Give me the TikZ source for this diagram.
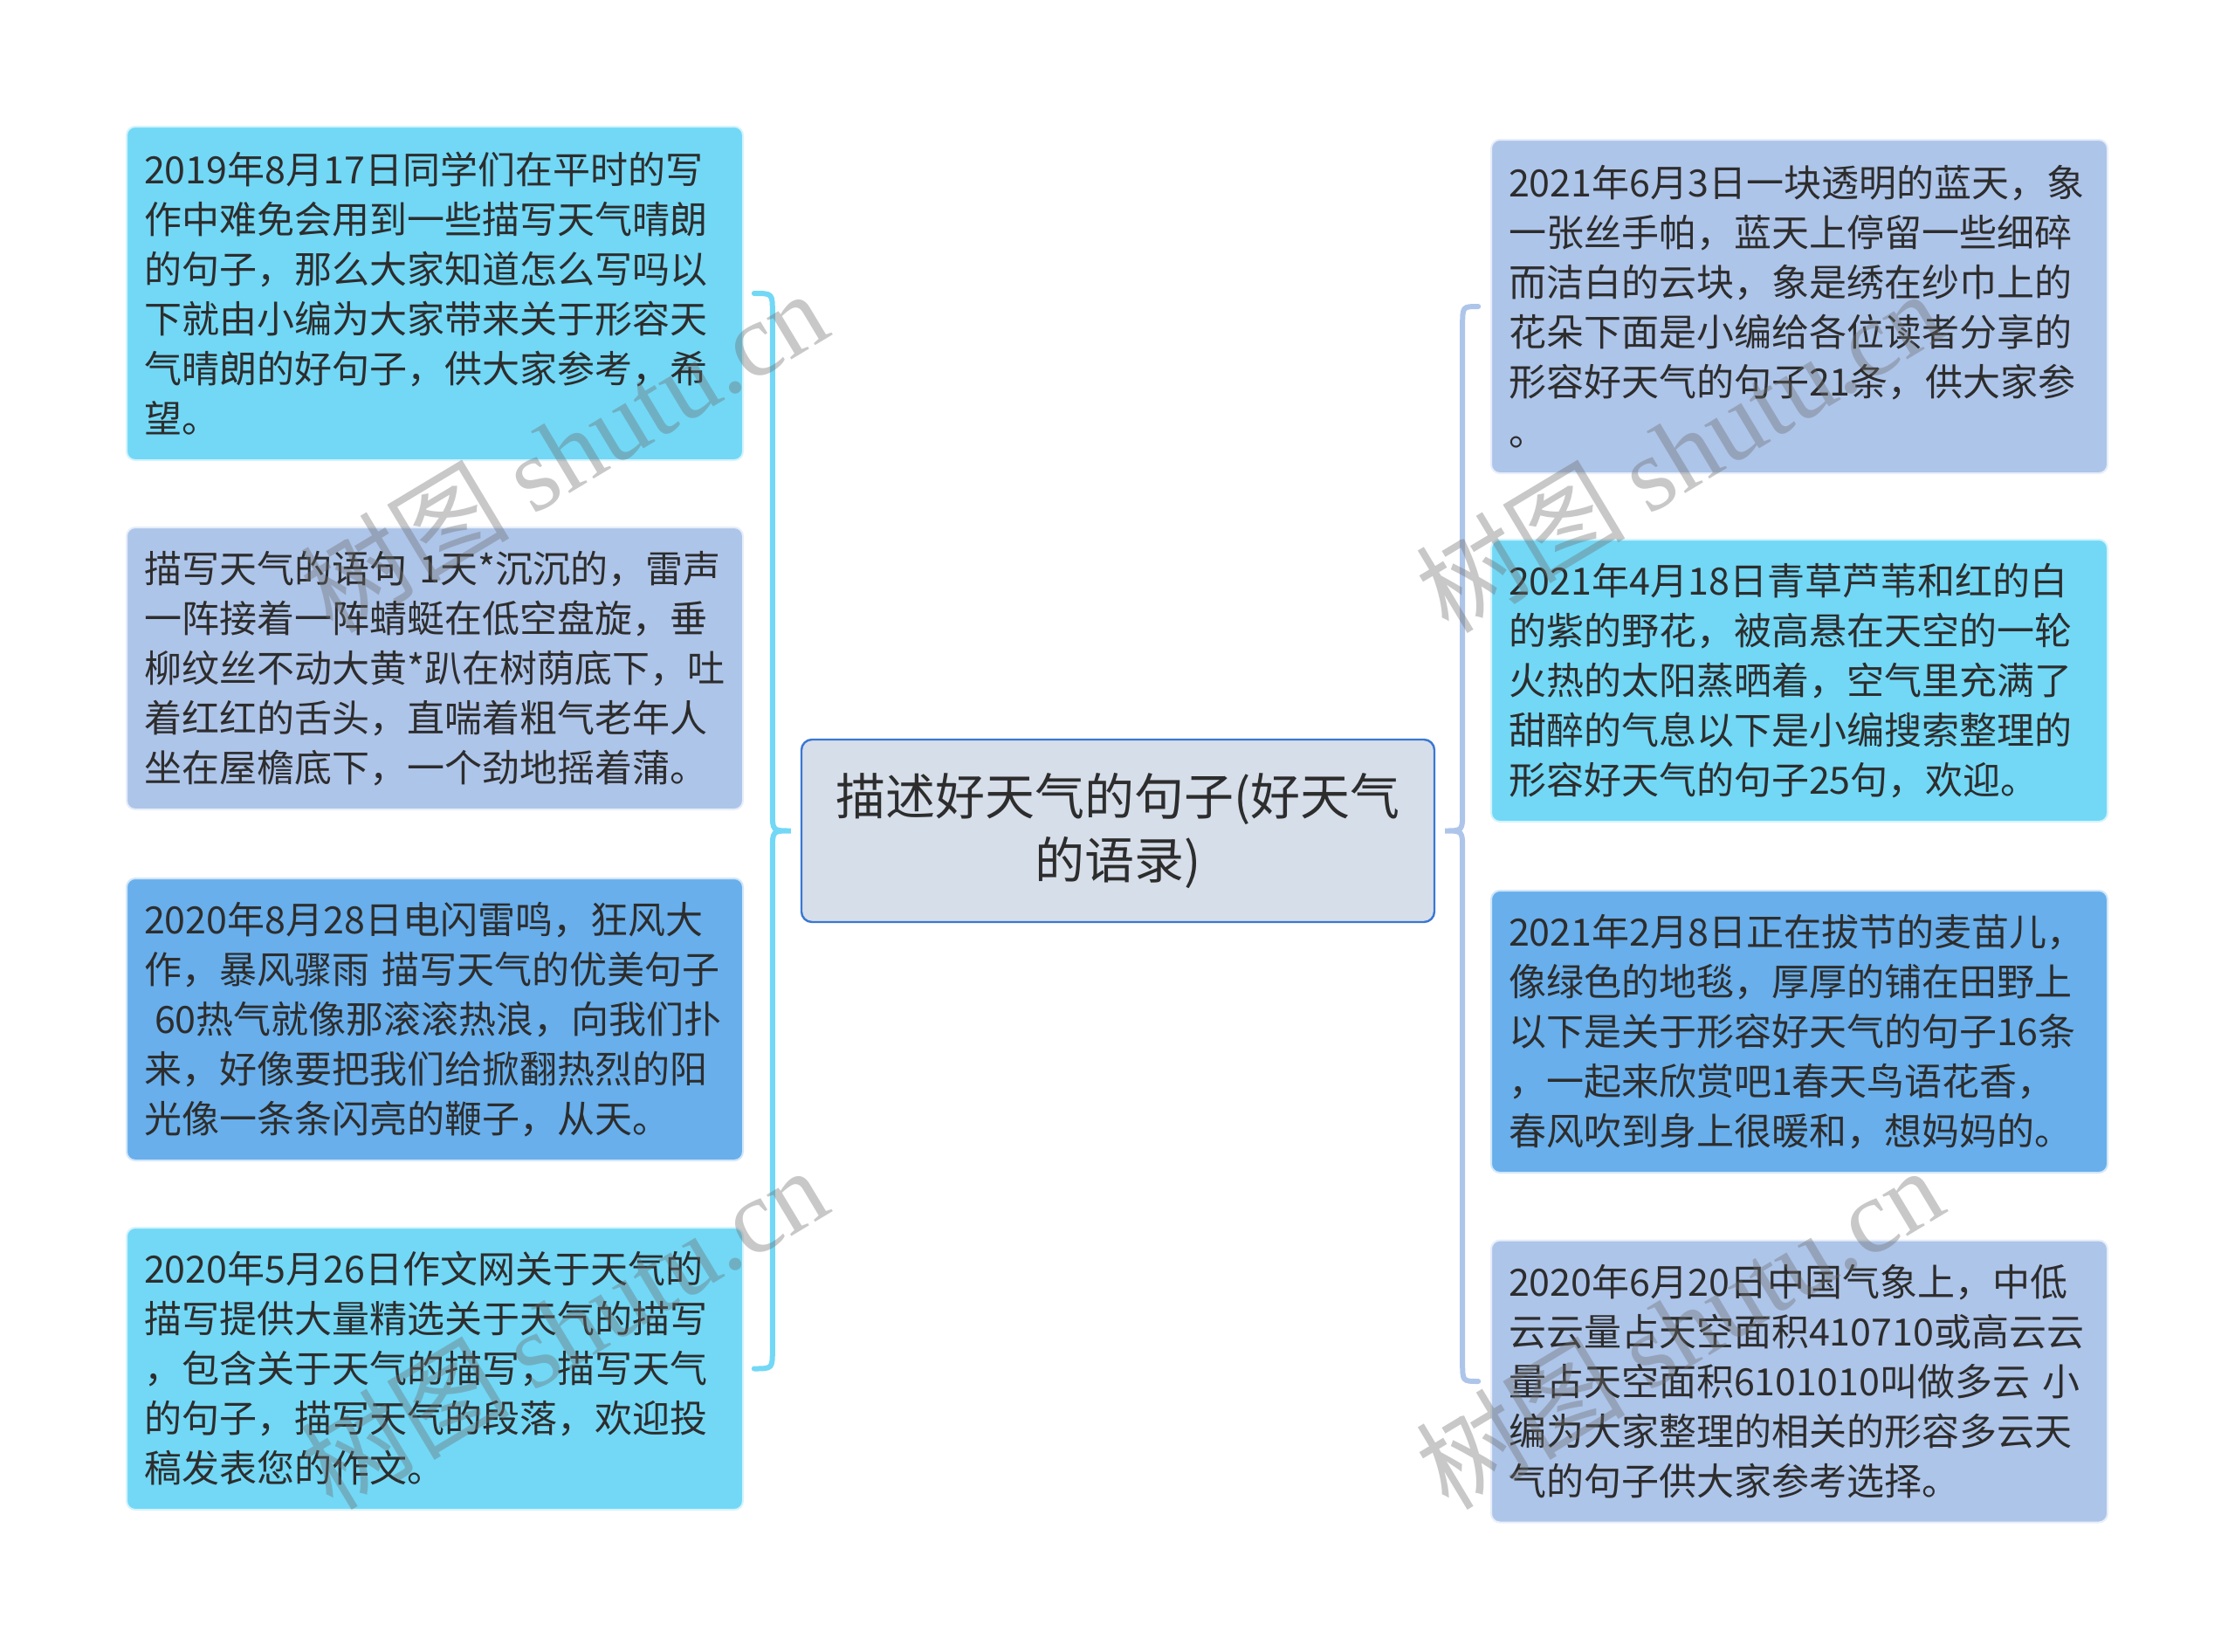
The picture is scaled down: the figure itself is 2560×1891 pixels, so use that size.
\documentclass[tikz,border=0pt]{standalone}
\usepackage{fontspec}
\setmainfont{Noto Sans CJK SC}
\newfontfamily\wmserif{Liberation Serif}
\newfontfamily\wmcjk{Noto Sans CJK SC}
\usetikzlibrary{calc}
\definecolor{cyanbox}{RGB}{114,216,246}
\definecolor{steelbox}{RGB}{174,197,234}
\definecolor{bluebox}{RGB}{104,175,236}
\definecolor{centerfill}{RGB}{214,222,234}
\definecolor{centerborder}{RGB}{58,120,210}
\definecolor{txt}{RGB}{45,45,45}
\definecolor{wmgray}{RGB}{110,110,110}
\begin{document}
\begin{tikzpicture}[x=0.5pt,y=-0.5pt,
  leaf/.style={rectangle, rounded corners=5pt, text width=333pt, align=left,
    inner xsep=10pt, inner ysep=0pt, font=\fontsize{21.5pt}{28.5pt}\selectfont,
    text=txt, line width=1pt},
  leafsix/.style={leaf, minimum height=191pt},
  leaffive/.style={leaf, minimum height=161.5pt},
  cyanleaf/.style={fill=cyanbox, draw=cyanbox!30!white},
  steelleaf/.style={fill=steelbox, draw=steelbox!30!white},
  blueleaf/.style={fill=bluebox, draw=bluebox!30!white},
  rootnode/.style={rectangle, rounded corners=6pt, fill=centerfill, draw=centerborder,
    line width=1.2pt, minimum width=362.5pt, minimum height=104.5pt, align=center,
    font=\fontsize{28.5pt}{36.75pt}\selectfont, text=txt},
  lbrace/.style={draw=cyanbox, line width=3pt, line cap=round},
  rbrace/.style={draw=steelbox, line width=3pt, line cap=round},
  wmark/.style={text=wmgray, opacity=0.38, rotate=31, inner sep=0pt}
]
\useasboundingbox (0,0) rectangle (2560,1891);

% root
\node[rootnode] (C) at (1280.5,951.5) {描述好天气的句子(好天气\\的语录)};

% left leaves
\node[leafsix, cyanleaf] (L1) at (498,336) {2019年8月17日同学们在平时的写\\作中难免会用到一些描写天气晴朗\\的句子，那么大家知道怎么写吗以\\下就由小编为大家带来关于形容天\\气晴朗的好句子，供大家参考，希\\望。};
\node[leaffive, steelleaf] (L2) at (498,765.5) {描写天气的语句 1天*沉沉的，雷声\\一阵接着一阵蜻蜓在低空盘旋，垂\\柳纹丝不动大黄*趴在树荫底下，吐\\着红红的舌头，直喘着粗气老年人\\坐在屋檐底下，一个劲地摇着蒲。};
\node[leaffive, blueleaf] (L3) at (498,1167.5) {2020年8月28日电闪雷鸣，狂风大\\作，暴风骤雨 描写天气的优美句子\\\hspace*{6pt}60热气就像那滚滚热浪，向我们扑\\来，好像要把我们给掀翻热烈的阳\\光像一条条闪亮的鞭子，从天。};
\node[leaffive, cyanleaf] (L4) at (498,1567.5) {2020年5月26日作文网关于天气的\\描写提供大量精选关于天气的描写\\，包含关于天气的描写，描写天气\\的句子，描写天气的段落，欢迎投\\稿发表您的作文。};

% right leaves
\node[leafsix, steelleaf] (R1) at (2061,351) {2021年6月3日一块透明的蓝天，象\\一张丝手帕，蓝天上停留一些细碎\\而洁白的云块，象是绣在纱巾上的\\花朵下面是小编给各位读者分享的\\形容好天气的句子21条，供大家参\\。};
\node[leaffive, cyanleaf] (R2) at (2061,779.5) {2021年4月18日青草芦苇和红的白\\的紫的野花，被高悬在天空的一轮\\火热的太阳蒸晒着，空气里充满了\\甜醉的气息以下是小编搜索整理的\\形容好天气的句子25句，欢迎。};
\node[leaffive, blueleaf] (R3) at (2061,1181.5) {2021年2月8日正在拔节的麦苗儿，\\像绿色的地毯，厚厚的铺在田野上\\以下是关于形容好天气的句子16条\\，一起来欣赏吧1春天鸟语花香，\\春风吹到身上很暖和，想妈妈的。};
\node[leaffive, steelleaf] (R4) at (2061,1582) {2020年6月20日中国气象上，中低\\云云量占天空面积410710或高云云\\量占天空面积6101010叫做多云 小\\编为大家整理的相关的形容多云天\\气的句子供大家参考选择。};

% braces
\coordinate (lv) at ($(C.west)+(-32,0)$);
\coordinate (rv) at ($(C.east)+(31,0)$);
\draw[lbrace] ($(lv |- L1.east)+(-21,0)$) .. controls (lv |- L1.east) .. ($(lv |- L1.east)+(0,22)$)
  -- ($(lv)+(0,-22)$) .. controls (lv) .. ($(C.west)+(-11,0)$)
  .. controls (lv) .. ($(lv)+(0,22)$)
  -- ($(lv |- L4.east)+(0,-22)$) .. controls (lv |- L4.east) .. ($(lv |- L4.east)+(-21,0)$);
\draw[rbrace] ($(rv |- R1.west)+(18,0)$) .. controls (rv |- R1.west) .. ($(rv |- R1.west)+(0,22)$)
  -- ($(rv)+(0,-22)$) .. controls (rv) .. ($(C.east)+(11,0)$)
  .. controls (rv) .. ($(rv)+(0,22)$)
  -- ($(rv |- R4.west)+(0,-22)$) .. controls (rv |- R4.west) .. ($(rv |- R4.west)+(18,0)$);

% watermarks
\node[wmark] (W1) at (645,516) {\fontsize{60pt}{60pt}\wmcjk 树图\ \wmserif shutu.cn};
\node[wmark] (W2) at (645,1520) {\fontsize{60pt}{60pt}\wmcjk 树图\ \wmserif shutu.cn};
\node[wmark] (W3) at (1923,516) {\fontsize{60pt}{60pt}\wmcjk 树图\ \wmserif shutu.cn};
\node[wmark] (W4) at (1923,1520) {\fontsize{60pt}{60pt}\wmcjk 树图\ \wmserif shutu.cn};
\end{tikzpicture}
\end{document}
